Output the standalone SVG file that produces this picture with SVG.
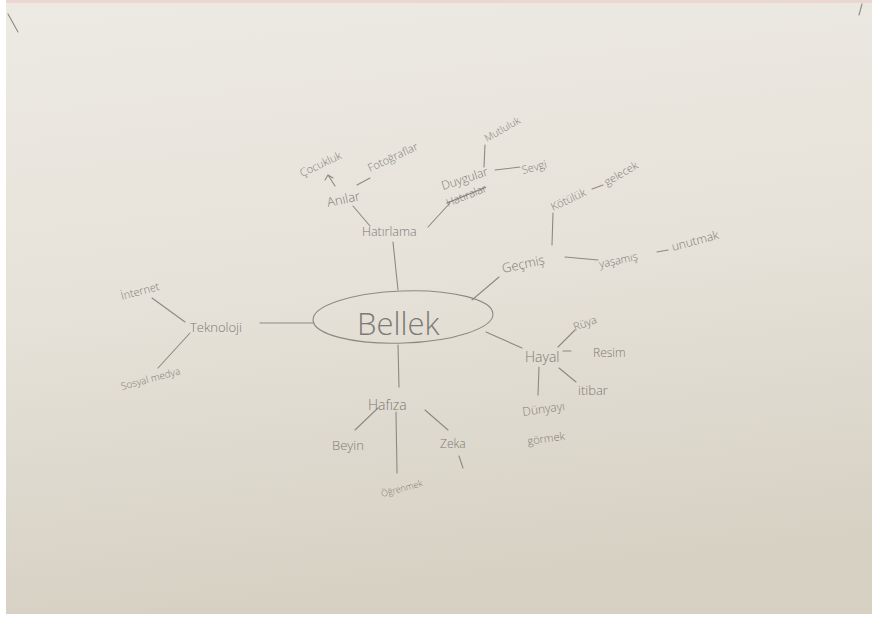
<svg xmlns="http://www.w3.org/2000/svg" width="872" height="619" viewBox="0 0 872 619">
<defs>
<linearGradient id="paper" x1="0" y1="0" x2="0.15" y2="1">
<stop offset="0" stop-color="#edeae4"/>
<stop offset="0.5" stop-color="#e6e2d9"/>
<stop offset="1" stop-color="#d7d1c4"/>
</linearGradient>
<style>
.t{font-family:"Open Sans","DejaVu Sans",sans-serif;font-weight:300;fill:#7c7a75}
.c line,.c path{stroke:#8c8983;stroke-width:1.1;fill:none;stroke-linecap:round}
.ol{fill:none;stroke:#8c8983;stroke-width:1.1}
</style>
</defs>
<rect x="0" y="0" width="872" height="619" fill="#ffffff"/>
<rect x="6" y="0" width="866" height="614" fill="url(#paper)"/>
<rect x="6" y="0" width="866" height="3" fill="#ecd6d2"/>
<g id="corner-marks" class="c">
<line x1="8" y1="14" x2="18" y2="32"/>
<line x1="862" y1="4" x2="859" y2="15"/>
</g>

<g id="connectors" class="c">
<line x1="398" y1="290" x2="393" y2="242"/>
<line x1="370" y1="226" x2="353" y2="206"/>
<line x1="357" y1="185" x2="370" y2="178"/>
<path d="M335 186 L328 175 M325 180 L328 175 L333 178"/>
<line x1="428" y1="227" x2="450" y2="203"/>
<line x1="484" y1="167" x2="485" y2="145"/>
<line x1="495" y1="170" x2="520" y2="167"/>
<line x1="472" y1="300" x2="499" y2="277"/>
<line x1="552" y1="245" x2="553" y2="213"/>
<line x1="565" y1="257" x2="598" y2="260"/>
<line x1="592" y1="189" x2="603" y2="185"/>
<line x1="657" y1="252" x2="668" y2="250"/>
<line x1="260" y1="323" x2="314" y2="323"/>
<line x1="152" y1="298" x2="185" y2="322"/>
<line x1="190" y1="333" x2="158" y2="368"/>
<line x1="398" y1="345" x2="399" y2="387"/>
<line x1="486" y1="332" x2="522" y2="348"/>
<line x1="558" y1="347" x2="575" y2="330"/>
<line x1="563" y1="351" x2="571" y2="351"/>
<line x1="559" y1="368" x2="576" y2="382"/>
<line x1="539" y1="367" x2="538" y2="395"/>
<line x1="378" y1="408" x2="355" y2="430"/>
<line x1="396" y1="412" x2="397" y2="473"/>
<line x1="425" y1="410" x2="448" y2="430"/>
<line x1="459" y1="456" x2="463" y2="468"/>
</g>

<g id="bellek"><ellipse class="ol" cx="403" cy="317" rx="90" ry="26" transform="rotate(-2 403 317)"/><text class="t" x="357" y="335" font-size="31">Bellek</text></g>
<g id="hatirlama"><text class="t" x="362" y="236" font-size="12.5">Hatırlama</text></g>
<g id="anilar"><text class="t" x="328" y="207" font-size="13" transform="rotate(-12 328 207)">Anılar</text></g>
<g id="fotograflar"><text class="t" x="370" y="172" font-size="11" transform="rotate(-25 370 172)">Fotoğraflar</text></g>
<g id="cocukluk"><text class="t" x="302" y="177" font-size="11" transform="rotate(-25 302 177)">Çocukluk</text></g>
<g id="duygular"><text class="t" x="443" y="190" font-size="12" transform="rotate(-18 443 190)">Duygular</text></g>
<g id="hatiralar"><text class="t" x="448" y="207" font-size="11" text-decoration="line-through" transform="rotate(-22 448 207)">Hatıralar</text></g>
<g id="mutluluk"><text class="t" x="487" y="142" font-size="10" transform="rotate(-30 487 142)">Mutluluk</text></g>
<g id="sevgi"><text class="t" x="523" y="174" font-size="11" transform="rotate(-15 523 174)">Sevgi</text></g>
<g id="gecmis"><text class="t" x="503" y="273" font-size="13" transform="rotate(-12 503 273)">Geçmiş</text></g>
<g id="kotuluk"><text class="t" x="553" y="211" font-size="11" transform="rotate(-25 553 211)">Kötülük</text></g>
<g id="gelecek"><text class="t" x="607" y="186" font-size="11" transform="rotate(-30 607 186)">gelecek</text></g>
<g id="yasamis"><text class="t" x="600" y="268" font-size="11" transform="rotate(-12 600 268)">yaşamış</text></g>
<g id="unutmak"><text class="t" x="673" y="251" font-size="12" transform="rotate(-15 673 251)">unutmak</text></g>
<g id="teknoloji"><text class="t" x="190" y="332" font-size="13">Teknoloji</text></g>
<g id="internet"><text class="t" x="122" y="300" font-size="11" transform="rotate(-15 122 300)">İnternet</text></g>
<g id="sosyal-medya"><text class="t" x="122" y="390" font-size="10" transform="rotate(-15 122 390)">Sosyal medya</text></g>
<g id="hayal"><text class="t" x="525" y="362" font-size="14">Hayal</text></g>
<g id="resim"><text class="t" x="593" y="357" font-size="12">Resim</text></g>
<g id="ruya"><text class="t" x="575" y="331" font-size="11" transform="rotate(-20 575 331)">Rüya</text></g>
<g id="itibar"><text class="t" x="578" y="395" font-size="13">itibar</text></g>
<g id="dunyayi-gormek"><text class="t" x="523" y="416" font-size="12" transform="rotate(-8 523 416)">Dünyayı</text><text class="t" x="528" y="445" font-size="11" transform="rotate(-8 528 445)">görmek</text></g>
<g id="hafiza"><text class="t" x="368" y="410" font-size="14">Hafıza</text></g>
<g id="beyin"><text class="t" x="332" y="450" font-size="13">Beyin</text></g>
<g id="zeka"><text class="t" x="440" y="448" font-size="12">Zeka</text></g>
<g id="ogrenmek"><text class="t" x="382" y="497" font-size="9" transform="rotate(-15 382 497)">Öğrenmek</text></g>
</svg>
